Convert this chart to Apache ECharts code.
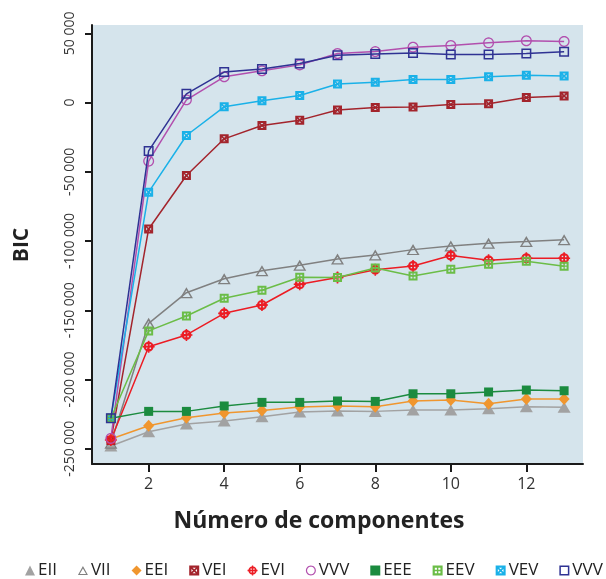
<!DOCTYPE html>
<html>
<head>
<meta charset="utf-8">
<script src="https://cdn.jsdelivr.net/npm/echarts@6/dist/echarts.min.js"></script>
<style>
  html, body { margin: 0; padding: 0; background: #ffffff; }
  #chart { width: 606px; height: 579px; }
</style>
</head>
<body>
<div id="chart"></div>
<script>
// Number of mixture components (x) and BIC values for each model family
const components = [1, 2, 3, 4, 5, 6, 7, 8, 9, 10, 11, 12, 13];
const xTicks = [2, 4, 6, 8, 10, 12];
const yTicks = [-250000, -200000, -150000, -100000, -50000, 0, 50000];

const bicEII = [-248000, -237700, -232100, -230000, -226900, -223500, -222700, -223000, -222000, -222000, -221100, -219600, -220100];
const bicVII = [-246000, -159400, -137300, -127200, -121400, -117500, -113000, -110000, -106200, -103500, -101600, -100400, -99000];
const bicEEI = [-243000, -233400, -227600, -224200, -222300, -219900, -219200, -219600, -215500, -214800, -217500, -214100, -214100];
const bicVEI = [-244000, -91300, -52700, -26200, -16600, -12700, -5400, -3600, -3300, -1450, -940, 3600, 4800];
const bicEVI = [-243700, -176300, -167800, -152200, -146200, -131200, -126300, -120700, -118000, -110500, -113900, -112400, -112400];
const bicVVVc = [-242500, -42300, 1950, 18600, 22900, 27200, 35400, 36800, 40000, 41200, 43100, 44600, 44100];
const bicEEE = [-228000, -223000, -223000, -219100, -216500, -216500, -215500, -215800, -210300, -210300, -209000, -207600, -208100];
const bicEEV = [-228000, -164900, -154100, -141300, -135500, -126100, -126300, -119400, -125200, -120400, -116800, -114600, -118200];
const bicVEV = [-228000, -64700, -23800, -3100, 1230, 5060, 13400, 14700, 16600, 16600, 18600, 19800, 19100];
const bicVVVs = [-228000, -34900, 6300, 22000, 24300, 28200, 34100, 35000, 35700, 34700, 34700, 35400, 36600];

// ---- marker shapes (outer contour clockwise, holes counter-clockwise) ----
function poly(pts) {
  return 'M' + pts.map(p => p[0].toFixed(2) + ' ' + p[1].toFixed(2)).join(' L') + ' Z ';
}
function circlePts(cx, cy, r, n, reverse) {
  const pts = [];
  for (let i = 0; i < n; i++) {
    const t = (reverse ? -1 : 1) * i * 2 * Math.PI / n;
    pts.push([cx + r * Math.cos(t), cy + r * Math.sin(t)]);
  }
  return pts;
}
function rectCW(x0, y0, x1, y1) { return poly([[x0, y0], [x1, y0], [x1, y1], [x0, y1]]); }
function rectCCW(x0, y0, x1, y1) { return poly([[x0, y0], [x0, y1], [x1, y1], [x1, y0]]); }

const openCircle = 'path://' + poly(circlePts(5, 5, 5, 28, false)) + poly(circlePts(5, 5, 3.8, 28, true));
const openSquare = 'path://' + rectCW(0, 0, 10, 10) + rectCCW(1.5, 1.5, 8.5, 8.5);
const openTriangle = 'path://' + poly([[5, 0], [10, 9], [0, 9]]) + poly([[5, 2.6], [1.8, 8.0], [8.2, 8.0]]);
const crossSquare = 'path://' + rectCW(0, 0, 10, 10) +
  poly([[3.4, 2.2], [5, 3.8], [6.6, 2.2]]) + poly([[7.8, 3.4], [6.2, 5], [7.8, 6.6]]) +
  poly([[6.6, 7.8], [5, 6.2], [3.4, 7.8]]) + poly([[2.2, 6.6], [3.8, 5], [2.2, 3.4]]);
const gridSquare = 'path://' + rectCW(0, 0, 10, 10) +
  rectCCW(2.2, 2.2, 4.3, 4.3) + rectCCW(5.7, 2.2, 7.8, 4.3) +
  rectCCW(2.2, 5.7, 4.3, 7.8) + rectCCW(5.7, 5.7, 7.8, 7.8);
const crossCircle = 'path://' + poly(circlePts(6, 6, 5, 28, false)) +
  rectCW(5.2, 0, 6.8, 2) + rectCW(5.2, 10, 6.8, 12) + rectCW(0, 5.2, 2, 6.8) + rectCW(10, 5.2, 12, 6.8) +
  rectCCW(3.6, 3.6, 5.1, 5.1) + rectCCW(6.9, 3.6, 8.4, 5.1) +
  rectCCW(3.6, 6.9, 5.1, 8.4) + rectCCW(6.9, 6.9, 8.4, 8.4);

const models = [
  { name: 'EII', values: bicEII, color: '#a2a2a2', symbol: 'triangle', size: [13, 11] },
  { name: 'VII', values: bicVII, color: '#808080', symbol: openTriangle, size: [13, 11] },
  { name: 'EEI', values: bicEEI, color: '#f0962e', symbol: 'diamond', size: [11, 12] },
  { name: 'VEI', values: bicVEI, color: '#a3242c', symbol: crossSquare, size: 9 },
  { name: 'EVI', values: bicEVI, color: '#ec1c24', symbol: crossCircle, size: 12 },
  { name: 'VVV', values: bicVVVc, color: '#b24fae', symbol: openCircle, size: 11 },
  { name: 'EEE', values: bicEEE, color: '#1b8b3f', symbol: 'rect', size: 9 },
  { name: 'EEV', values: bicEEV, color: '#6bbd47', symbol: gridSquare, size: 9, z: 3 },
  { name: 'VEV', values: bicVEV, color: '#1ab1e8', symbol: crossSquare, size: 9 },
  { name: 'VVV ', values: bicVVVs, color: '#2f3293', symbol: openSquare, size: 10, z: 4 }
];

function spaced(v) {
  const s = Math.abs(Math.round(v)).toString().replace(/\B(?=(\d{3})+(?!\d))/g, ' ');
  return (v < 0 ? '-' : '') + s;
}

const fontFamily = '"Open Sans", "Noto Sans", sans-serif';

const chart = echarts.init(document.getElementById('chart'), null, { renderer: 'canvas' });

chart.setOption({
  animation: false,
  backgroundColor: '#ffffff',
  textStyle: { fontFamily: fontFamily },
  grid: {
    left: 92, right: 23, top: 25, bottom: 115,
    show: true, backgroundColor: '#d5e4ec', borderWidth: 0
  },
  xAxis: {
    type: 'value',
    min: 0.5,
    max: 13.5,
    splitLine: { show: false },
    axisLine: { onZero: false, lineStyle: { color: '#1a1a1a', width: 2 } },
    axisTick: { customValues: xTicks, length: 8, lineStyle: { color: '#1a1a1a', width: 2 } },
    axisLabel: { customValues: xTicks, margin: 12, fontSize: 16, color: '#333333', fontFamily: fontFamily }
  },
  yAxis: {
    type: 'value',
    min: -261000,
    max: 56000,
    splitLine: { show: false },
    axisLine: { onZero: false, lineStyle: { color: '#1a1a1a', width: 2 } },
    axisTick: { customValues: yTicks, length: 7, lineStyle: { color: '#1a1a1a', width: 2 } },
    axisLabel: {
      customValues: yTicks, rotate: 90, margin: 15, fontSize: 14, color: '#333333',
      fontFamily: fontFamily, formatter: spaced
    }
  },
  legend: {
    left: 20,
    top: 557,
    width: 900,
    itemWidth: 10,
    itemHeight: 10,
    itemGap: 21,
    textStyle: { fontSize: 17, color: '#222222', fontFamily: fontFamily, padding: [0, 0, 0, -2] },
    formatter: name => name.trim(),
    data: models.map(m => ({ name: m.name, icon: m.symbol }))
  },
  graphic: [
    {
      type: 'text', x: 22, y: 245, rotation: Math.PI / 2,
      style: {
        text: 'BIC', fill: '#222222', font: 'bold 21px ' + fontFamily,
        align: 'center', verticalAlign: 'middle'
      }
    },
    {
      type: 'text', x: 319, y: 521,
      style: {
        text: 'Número de componentes', fill: '#222222', font: 'bold 23px ' + fontFamily,
        align: 'center', verticalAlign: 'middle'
      }
    }
  ],
  series: models.map(m => ({
    name: m.name,
    type: 'line',
    z: m.z || 2,
    data: components.map((c, i) => [c, m.values[i]]),
    symbol: m.symbol,
    symbolSize: m.size,
    showAllSymbol: true,
    lineStyle: { color: m.color, width: 1.5 },
    itemStyle: { color: m.color, borderWidth: 0 },
    emphasis: { disabled: true }
  }))
});
</script>
</body>
</html>
